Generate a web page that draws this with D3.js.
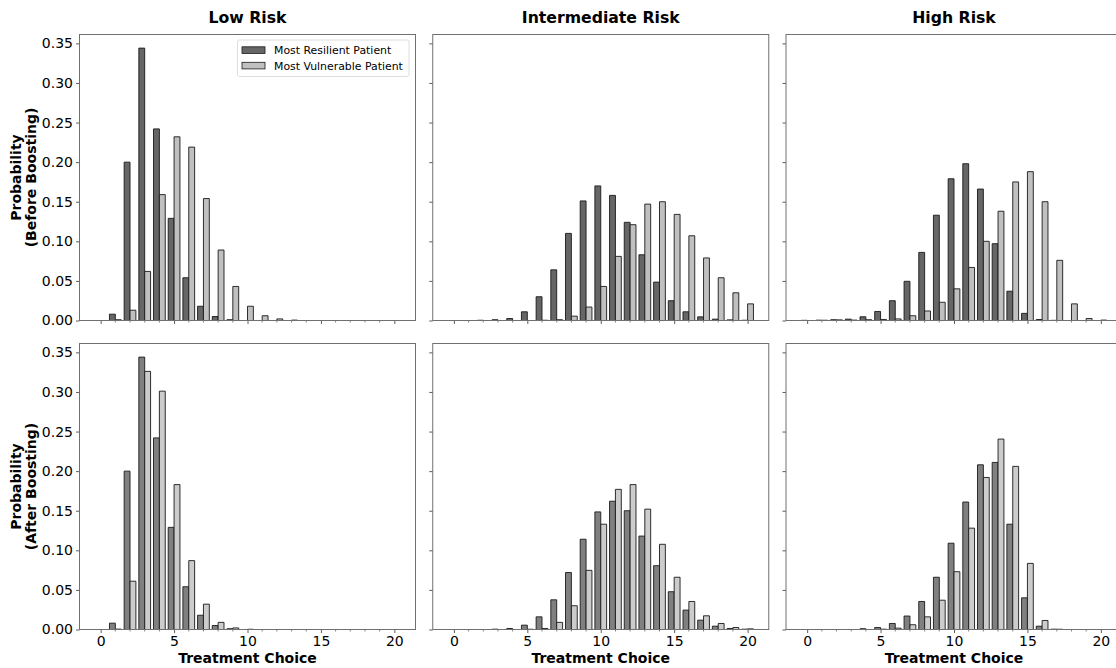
<!DOCTYPE html>
<head>
<meta charset="utf-8">
<style>
body { margin: 0; background: #fff; }
svg text { font-family: "DejaVu Sans", sans-serif; fill: #000; }
.tick text { font-size: 14px; }
.title { font-size: 15.7px; font-weight: bold; text-anchor: middle; }
.label { font-size: 14px; font-weight: bold; text-anchor: middle; }
.legend text { font-size: 10.9px; }
</style>
</head>
<body>
<svg id="chart"></svg>
<script src="https://cdn.jsdelivr.net/npm/d3@7"></script>
<script>

const choices = [0, 1, 2, 3, 4, 5, 6, 7, 8, 9, 10, 11, 12, 13, 14, 15, 16, 17, 18, 19, 20]
const riskTitles = ['Low Risk', 'Intermediate Risk', 'High Risk']
const rowLabels = [['Probability', '(Before Boosting)'], ['Probability', '(After Boosting)']]
const seriesNames = ['Most Resilient Patient', 'Most Vulnerable Patient']
const yTicks = [0, 0.05, 0.10, 0.15, 0.20, 0.25, 0.30, 0.35]
const xTicks = [0, 5, 10, 15, 20]

// before boosting
const lowBeforeResilient = [0, 0.008, 0.200, 0.344, 0.242, 0.129, 0.054, 0.018, 0.005, 0.001, 0, 0, 0, 0, 0, 0, 0, 0, 0, 0, 0]
const lowBeforeVulnerable = [0, 0.001, 0.013, 0.062, 0.159, 0.232, 0.219, 0.154, 0.089, 0.043, 0.018, 0.006, 0.002, 0.0005, 0, 0, 0, 0, 0, 0, 0]
const midBeforeResilient = [0, 0, 0.0003, 0.001, 0.0025, 0.011, 0.030, 0.064, 0.110, 0.151, 0.170, 0.158, 0.124, 0.083, 0.0485, 0.025, 0.011, 0.0046, 0.0017, 0.0008, 0.0003]
const midBeforeVulnerable = [0, 0, 0, 0, 0, 0, 0.0003, 0.001, 0.0055, 0.017, 0.043, 0.081, 0.121, 0.147, 0.150, 0.134, 0.107, 0.079, 0.054, 0.035, 0.021]
const highBeforeResilient = [0.0002, 0.0004, 0.001, 0.0017, 0.0047, 0.0114, 0.025, 0.0495, 0.086, 0.133, 0.179, 0.198, 0.166, 0.097, 0.037, 0.009, 0.0013, 0.0002, 0, 0, 0]
const highBeforeVulnerable = [0, 0.0003, 0.0008, 0.0005, 0.001, 0.0013, 0.002, 0.006, 0.012, 0.023, 0.040, 0.067, 0.100, 0.138, 0.175, 0.188, 0.150, 0.076, 0.021, 0.0025, 0.0005]

// after boosting
const lowAfterResilient = [0, 0.008, 0.200, 0.344, 0.242, 0.129, 0.054, 0.018, 0.005, 0.001, 0, 0, 0, 0, 0, 0, 0, 0, 0, 0, 0]
const lowAfterVulnerable = [0, 0.0005, 0.061, 0.326, 0.301, 0.183, 0.087, 0.032, 0.009, 0.002, 0.0003, 0, 0, 0, 0, 0, 0, 0, 0, 0, 0]
const midAfterResilient = [0, 0, 0, 0.0004, 0.0013, 0.0055, 0.016, 0.0375, 0.072, 0.114, 0.1485, 0.162, 0.150, 0.118, 0.0806, 0.0477, 0.0245, 0.0118, 0.0042, 0.0013, 0.0004]
const midAfterVulnerable = [0, 0, 0, 0, 0, 0.0003, 0.0013, 0.009, 0.030, 0.0747, 0.133, 0.177, 0.183, 0.152, 0.1076, 0.066, 0.0354, 0.0173, 0.0076, 0.0025, 0.0008]
const highAfterResilient = [0, 0, 0, 0, 0.001, 0.0025, 0.0076, 0.017, 0.0354, 0.066, 0.109, 0.161, 0.208, 0.211, 0.133, 0.040, 0.0042, 0.0004, 0, 0, 0]
const highAfterVulnerable = [0, 0, 0, 0, 0, 0.0004, 0.0017, 0.006, 0.016, 0.037, 0.073, 0.128, 0.192, 0.2405, 0.206, 0.0835, 0.0114, 0.0003, 0, 0, 0]

const panelData = [
  [[lowBeforeResilient, lowBeforeVulnerable], [midBeforeResilient, midBeforeVulnerable], [highBeforeResilient, highBeforeVulnerable]],
  [[lowAfterResilient, lowAfterVulnerable], [midAfterResilient, midAfterVulnerable], [highAfterResilient, highAfterVulnerable]]
]

const rowColors = [['#666666', '#c0c0c0'], ['#808080', '#cccccc']]

const size = {width: 1116, height: 668}
const panel = {left: 79.5, top: [34.5, 343.5], width: 336, height: 286, step: 353.25}
const barWidth = 0.4

const svg = d3.select('#chart')
  .attr('width', size.width)
  .attr('height', size.height)

const x = d3.scaleLinear()
  .domain([-1.44, 21.44])
  .range([0, panel.width])

const y = d3.scaleLinear()
  .domain([0, 0.3612])
  .range([panel.height, 0])

panelData.forEach((row, r) => {
  row.forEach((pair, c) => {
    const g = svg.append('g')
      .attr('transform', `translate(${panel.left + c * panel.step}, ${panel.top[r]})`)
    drawPanel(g, pair, r, c)
  })
})

function drawPanel(g, pair, r, c) {
  pair.forEach((values, s) => {
    const offset = s === 0 ? -barWidth : 0
    g.append('g')
      .selectAll('path')
      .data(choices.map((ch, i) => ({ch, v: values[i]})))
      .join('path')
        .attr('d', d => {
          const x0 = x(d.ch + offset), x1 = x(d.ch + offset + barWidth)
          const y0 = y(0), y1 = y(d.v)
          return `M${x0},${y0}L${x0},${y1}L${x1},${y1}L${x1},${y0}Z`
        })
        .attr('fill', rowColors[r][s])
        .attr('stroke', '#1a1a1a')
        .attr('stroke-width', 0.9)
  })

  // minor ticks every choice
  g.append('g')
    .attr('transform', `translate(0, ${panel.height})`)
    .selectAll('line')
    .data(choices.filter(ch => ch % 5 !== 0))
    .join('line')
      .attr('x1', d => x(d)).attr('x2', d => x(d))
      .attr('y1', 0).attr('y2', 2)
      .attr('stroke', '#333')
      .attr('stroke-width', 0.6)

  const xAxis = d3.axisBottom(x).tickValues(xTicks).tickSize(3.5).tickPadding(3)
  if (r === 0) xAxis.tickFormat('')
  const xg = g.append('g')
    .attr('transform', `translate(0, ${panel.height})`)
    .call(xAxis)
  xg.select('.domain').remove()

  const yAxis = d3.axisLeft(y).tickValues(yTicks).tickSize(3.5).tickPadding(3)
    .tickFormat(d3.format('.2f'))
  if (c > 0) yAxis.tickFormat('')
  const yg = g.append('g').call(yAxis)
  yg.select('.domain').remove()

  g.selectAll('.tick line').attr('stroke', '#333').attr('stroke-width', 0.8)

  g.append('rect')
    .attr('width', panel.width)
    .attr('height', panel.height)
    .attr('fill', 'none')
    .attr('stroke', '#707070')
    .attr('stroke-width', 1)

  if (r === 0) {
    g.append('text')
      .attr('class', 'title')
      .attr('x', panel.width / 2)
      .attr('y', -12)
      .text(riskTitles[c])
  } else {
    g.append('text')
      .attr('class', 'label')
      .attr('x', panel.width / 2)
      .attr('y', panel.height + 33.5)
      .text('Treatment Choice')
  }

  if (c === 0) {
    const lbl = g.append('text')
      .attr('class', 'label')
      .attr('transform', `translate(-58.5, ${panel.height / 2}) rotate(-90)`)
    rowLabels[r].forEach((line, i) => {
      lbl.append('tspan')
        .attr('x', 0)
        .attr('dy', i === 0 ? 0 : 15)
        .text(line)
    })
  }

  if (r === 0 && c === 0) legendLayer(g)
}

function legendLayer(g) {
  const lg = g.append('g')
    .attr('class', 'legend')
    .attr('transform', `translate(158, 5.5)`)

  lg.append('rect')
    .attr('width', 171.5)
    .attr('height', 36.5)
    .attr('rx', 2)
    .attr('fill', '#fff')
    .attr('stroke', '#d6d6d6')
    .attr('stroke-width', 0.8)

  seriesNames.forEach((name, i) => {
    lg.append('rect')
      .attr('x', 4.5)
      .attr('y', 6.8 + i * 15.5)
      .attr('width', 23)
      .attr('height', 6.6)
      .attr('fill', rowColors[0][i])
      .attr('stroke', '#1a1a1a')
      .attr('stroke-width', 0.8)
    lg.append('text')
      .attr('x', 36.5)
      .attr('y', 14.2 + i * 15.5)
      .text(name)
  })
}

</script>
</body>
